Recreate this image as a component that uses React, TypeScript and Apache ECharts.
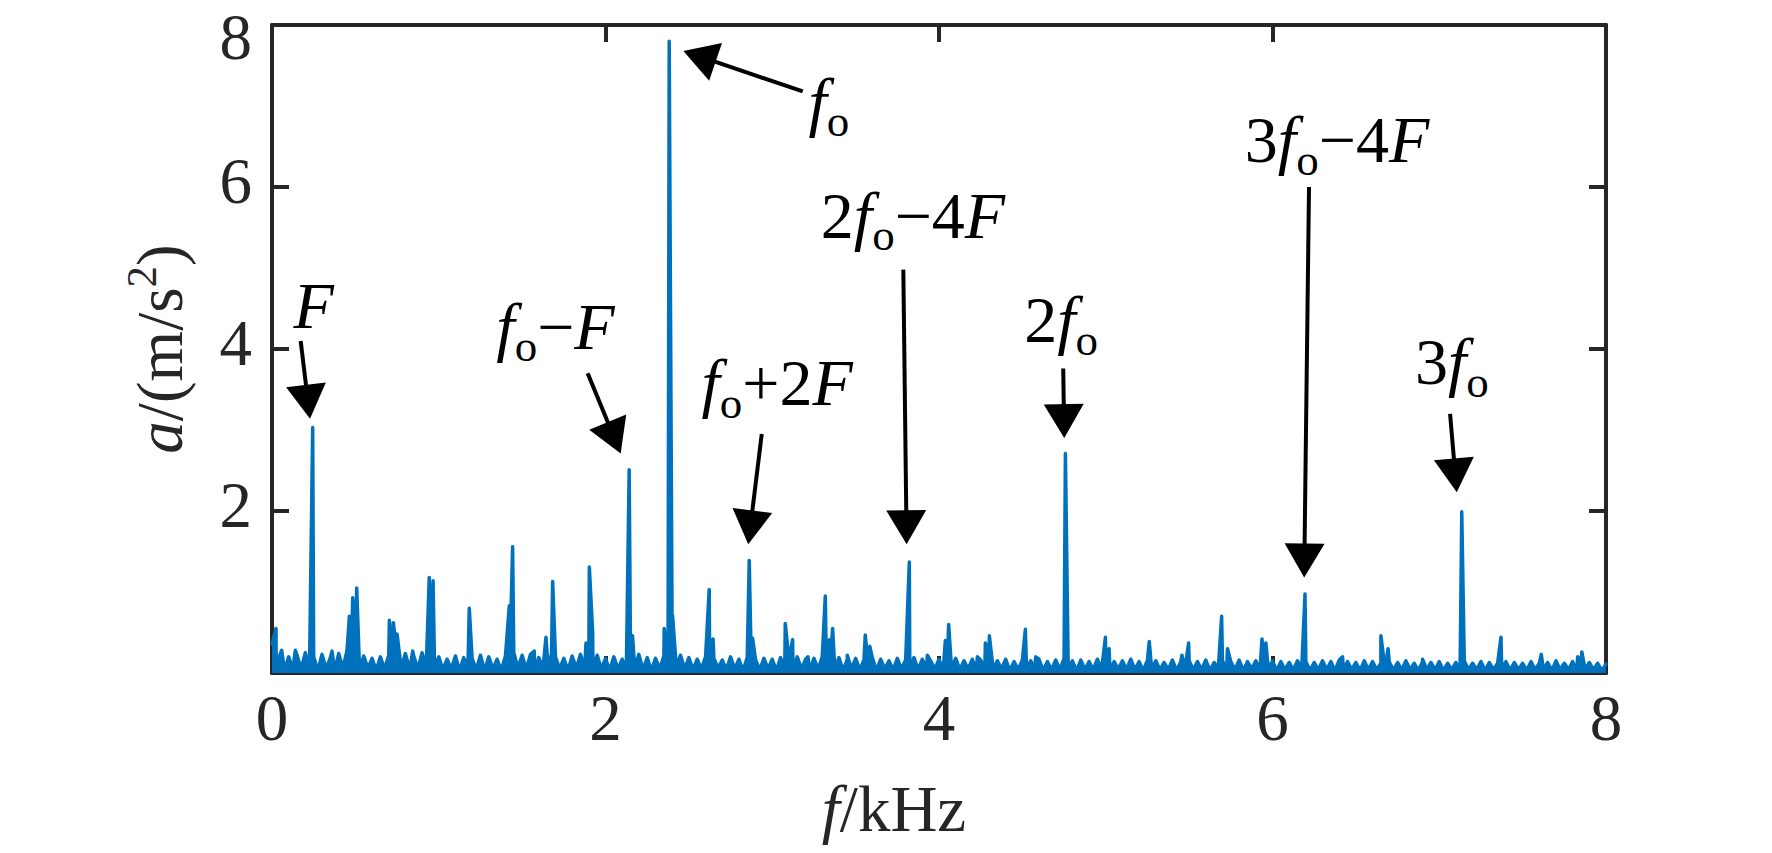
import React, { useEffect, useRef } from "react";
import * as echarts from "echarts";

// ---------- data ----------
const X_MIN = 0;
const X_MAX = 8;
const Y_MIN = 0;
const Y_MAX = 8;
const TICK_STEP = 2;

// noise floor of the spectrum, one value every NOISE_STEP kHz from 0 to 8 kHz
const NOISE_STEP = 0.025;
const noiseFloor = [
  0.36, 0.08, 0.24, 0.03, 0.2, 0.04, 0.22, 0.05, 0.25, 0.06, 0.2, 0.03, 0.23, 0.05, 0.19, 0.03, 0.24, 0.06, 0.28, 0.08,
  0.22, 0.04, 0.21, 0.06, 0.18, 0.03, 0.2, 0.05, 0.22, 0.04, 0.19, 0.06, 0.24, 0.04, 0.21, 0.05, 0.25, 0.07, 0.22, 0.05,
  0.2, 0.04, 0.17, 0.05, 0.21, 0.03, 0.19, 0.06, 0.18, 0.04, 0.22, 0.03, 0.2, 0.05, 0.17, 0.03, 0.21, 0.06, 0.25, 0.06,
  0.22, 0.05, 0.23, 0.03, 0.19, 0.06, 0.24, 0.04, 0.2, 0.05, 0.18, 0.03, 0.21, 0.06, 0.23, 0.05, 0.19, 0.03, 0.22, 0.05,
  0.18, 0.03, 0.2, 0.05, 0.17, 0.04, 0.22, 0.06, 0.23, 0.04, 0.19, 0.03, 0.18, 0.05, 0.21, 0.04, 0.26, 0.07, 0.22, 0.05,
  0.19, 0.04, 0.17, 0.05, 0.2, 0.03, 0.18, 0.06, 0.16, 0.04, 0.2, 0.05, 0.17, 0.03, 0.19, 0.05, 0.16, 0.04, 0.18, 0.05,
  0.17, 0.03, 0.19, 0.05, 0.16, 0.04, 0.2, 0.05, 0.17, 0.03, 0.18, 0.05, 0.2, 0.04, 0.16, 0.05, 0.19, 0.03, 0.17, 0.05,
  0.18, 0.04, 0.16, 0.05, 0.19, 0.03, 0.17, 0.05, 0.15, 0.04, 0.18, 0.05, 0.16, 0.03, 0.19, 0.04, 0.17, 0.04, 0.15, 0.05,
  0.17, 0.03, 0.16, 0.05, 0.18, 0.04, 0.15, 0.05, 0.17, 0.03, 0.16, 0.04, 0.18, 0.04, 0.15, 0.05, 0.17, 0.03, 0.14, 0.04,
  0.16, 0.04, 0.15, 0.05, 0.17, 0.03, 0.14, 0.04, 0.16, 0.04, 0.18, 0.05, 0.15, 0.03, 0.16, 0.04, 0.14, 0.04, 0.17, 0.04,
  0.16, 0.03, 0.14, 0.05, 0.15, 0.04, 0.17, 0.04, 0.14, 0.03, 0.16, 0.05, 0.15, 0.04, 0.13, 0.04, 0.16, 0.03, 0.14, 0.05,
  0.15, 0.04, 0.14, 0.04, 0.16, 0.03, 0.13, 0.05, 0.15, 0.04, 0.14, 0.04, 0.16, 0.03, 0.14, 0.05, 0.15, 0.04, 0.13, 0.04,
  0.15, 0.03, 0.14, 0.04, 0.13, 0.04, 0.15, 0.05, 0.14, 0.03, 0.13, 0.04, 0.15, 0.04, 0.14, 0.03, 0.16, 0.04, 0.14, 0.04,
  0.13, 0.03, 0.15, 0.04, 0.14, 0.04, 0.12, 0.05, 0.14, 0.03, 0.13, 0.04, 0.15, 0.04, 0.12, 0.03, 0.14, 0.04, 0.13, 0.04,
  0.14, 0.03, 0.12, 0.04, 0.13, 0.03, 0.15, 0.04, 0.12, 0.04, 0.14, 0.03, 0.13, 0.04, 0.12, 0.04, 0.14, 0.03, 0.13, 0.04,
  0.12, 0.03, 0.14, 0.04, 0.12, 0.04, 0.13, 0.03, 0.15, 0.04, 0.12, 0.04, 0.14, 0.03, 0.12, 0.04, 0.13, 0.04, 0.12, 0.03,
  0.11,
];

// spectral lines: frequency (kHz) and amplitude (m/s^2)
const peakFreq = [
  0.024, 0.058, 0.14, 0.244, 0.36, 0.464, 0.484, 0.508, 0.704, 0.728, 0.75, 0.844, 0.943, 0.966, 1.183,
  1.423, 1.443, 1.573, 1.643, 1.683, 1.883, 1.903, 1.923, 2.142, 2.162, 2.352, 2.382, 2.402, 2.622, 2.645,
  2.862, 2.882, 3.078, 3.122, 3.214, 3.318, 3.343, 3.362, 3.45, 3.558, 3.585, 3.822, 3.93, 4.038, 4.058,
  4.23, 4.278, 4.302, 4.518, 4.58, 4.758, 4.998, 5.02, 5.261, 5.457, 5.497, 5.695, 5.73, 5.937, 5.96,
  6.195, 6.42, 6.65, 6.693, 6.9, 7.135, 7.37, 7.612, 7.83, 7.855,
];
const peakAmp = [
  0.55, 0.28, 0.28, 3.03, 0.27, 0.7, 0.93, 1.05, 0.65, 0.62, 0.48, 0.27, 1.18, 1.14, 0.8,
  0.83, 1.56, 0.27, 0.44, 1.13, 0.37, 1.31, 0.5, 2.51, 0.46, 0.55, 7.8, 0.71, 1.03, 0.42,
  1.39, 0.43, 0.61, 0.41, 0.2, 0.95, 0.41, 0.55, 0.22, 0.47, 0.33, 1.37, 0.22, 0.4, 0.6,
  0.2, 0.37, 0.46, 0.54, 0.2, 2.71, 0.44, 0.3, 0.39, 0.22, 0.37, 0.7, 0.3, 0.42, 0.37,
  0.975, 0.2, 0.46, 0.3, 0.17, 1.99, 0.44, 0.23, 0.2, 0.26,
];

// annotations: label (rich text), label centre [kHz, baseline value], arrow tail, arrow tip
const annLabels = [
  "{i|F}",
  "{i|f}{s|o}{n|\u2212}{i|F}",
  "{i|f}{s|o}",
  "{i|f}{s|o}{n|+2}{i|F}",
  "{n|2}{i|f}{s|o}{n|\u22124}{i|F}",
  "{n|2}{i|f}{s|o}",
  "{n|3}{i|f}{s|o}{n|\u22124}{i|F}",
  "{n|3}{i|f}{s|o}",
];
const annLabelPos = [
  [0.25, 4.27], [1.7, 4.01], [3.34, 6.79], [3.029, 3.31],
  [3.844, 5.38], [4.732, 4.09], [6.387, 6.31], [7.076, 3.57],
];
const annTail = [
  [0.172, 4.1], [1.893, 3.7], [3.183, 7.18], [2.937, 2.95],
  [3.786, 4.98], [4.745, 3.76], [6.219, 6.0], [7.065, 3.2],
];
const annTip = [
  [0.228, 3.14], [2.091, 2.71], [2.467, 7.68], [2.856, 1.59],
  [3.806, 1.59], [4.751, 2.9], [6.19, 1.18], [7.105, 2.23],
];

// ---------- styling ----------
const SERIF = "'Liberation Serif', 'Times New Roman', serif";
const AXIS_COLOR = "#262626";
const LINE_COLOR = "#0072BD";

export default function App() {
  const ref = useRef<HTMLDivElement>(null);

  useEffect(() => {
    document.body.style.margin = "0";
    if (!ref.current) return;
    const chart = echarts.init(ref.current, undefined, { renderer: "svg" });

    const pts: [number, number][] = noiseFloor.map((v, i) => [
      Math.round(i * NOISE_STEP * 1000) / 1000,
      v,
    ]);
    peakFreq.forEach((f, i) => pts.push([f, peakAmp[i]]));
    pts.sort((a, b) => a[0] - b[0]);

    const axisLine = { show: true, onZero: false, lineStyle: { color: AXIS_COLOR, width: 4 } };
    const axisTick = {
      show: true,
      inside: true,
      length: 17,
      lineStyle: { color: AXIS_COLOR, width: 4 },
    };
    const labelFont = {
      fontFamily: SERIF,
      fontSize: 65,
      color: AXIS_COLOR,
    };
    const NAME_SIZE = 65;

    chart.setOption({
      animation: false,
      backgroundColor: "#ffffff",
      grid: { left: 272, top: 25, width: 1334, height: 648, containLabel: false },
      xAxis: [
        {
          type: "value",
          min: X_MIN,
          max: X_MAX,
          interval: TICK_STEP,
          position: "bottom",
          axisLine,
          axisTick,
          splitLine: { show: false },
          axisLabel: { ...labelFont, margin: 12, lineHeight: 66 },
          name: "{i|f}{n|/kHz}",
          nameLocation: "middle",
          nameGap: 100,
          nameTextStyle: {
            fontFamily: SERIF,
            fontSize: NAME_SIZE,
            color: AXIS_COLOR,
            padding: [0, 90, 0, 0],
            rich: {
              i: { fontFamily: SERIF, fontSize: NAME_SIZE, fontStyle: "italic", color: AXIS_COLOR, lineHeight: 72 },
              n: { fontFamily: SERIF, fontSize: NAME_SIZE, color: AXIS_COLOR, lineHeight: 72 },
            },
          },
        },
        {
          type: "value",
          min: X_MIN,
          max: X_MAX,
          interval: TICK_STEP,
          position: "top",
          axisLine,
          axisTick,
          splitLine: { show: false },
          axisLabel: { show: false },
        },
      ],
      yAxis: [
        {
          type: "value",
          min: Y_MIN,
          max: Y_MAX,
          interval: TICK_STEP,
          position: "left",
          axisLine,
          axisTick,
          splitLine: { show: false },
          axisLabel: {
            ...labelFont,
            margin: 20,
            formatter: (v: number) =>
              v === 0 ? "" : v === Y_MAX ? `{t|${v}}` : `{m|${v}}`,
            rich: {
              t: { fontFamily: SERIF, fontSize: 65, color: AXIS_COLOR, padding: [24, 0, 0, 0] },
              m: { fontFamily: SERIF, fontSize: 65, color: AXIS_COLOR, padding: [0, 0, 12, 0] },
            },
          },
          name: "{i|a}{n|/(m/s}{p|2}{n|)}",
          nameLocation: "middle",
          nameGap: 76,
          nameRotate: 90,
          nameTextStyle: {
            fontFamily: SERIF,
            fontSize: NAME_SIZE,
            color: AXIS_COLOR,
            rich: {
              i: { fontFamily: SERIF, fontSize: NAME_SIZE, fontStyle: "italic", color: AXIS_COLOR, lineHeight: 72 },
              n: { fontFamily: SERIF, fontSize: NAME_SIZE, color: AXIS_COLOR, lineHeight: 72 },
              p: {
                fontFamily: SERIF,
                fontSize: 43,
                color: AXIS_COLOR,
                height: 34,
                lineHeight: 34,
                verticalAlign: "top",
              },
            },
          },
        },
        {
          type: "value",
          min: Y_MIN,
          max: Y_MAX,
          interval: TICK_STEP,
          position: "right",
          axisLine,
          axisTick,
          splitLine: { show: false },
          axisLabel: { show: false },
        },
      ],
      series: [
        {
          type: "line",
          xAxisIndex: 0,
          yAxisIndex: 0,
          data: pts,
          showSymbol: false,
          symbol: "none",
          lineStyle: { color: LINE_COLOR, width: 3.5, join: "round", cap: "round" },
          areaStyle: { color: LINE_COLOR, opacity: 1 },
          z: 3,
        },
      ],
    });

    const toPx = (p: number[]) =>
      chart.convertToPixel({ gridIndex: 0 }, p) as number[];

    const RICH = {
      i: { fontFamily: SERIF, fontSize: 66, fontStyle: "italic", fill: "#000", lineHeight: 70 },
      n: { fontFamily: SERIF, fontSize: 66, fill: "#000", lineHeight: 70 },
      s: {
        fontFamily: SERIF,
        fontSize: 45,
        fill: "#000",
        height: 30,
        lineHeight: 30,
        verticalAlign: "bottom",
      },
    };

    const HEAD_LEN = 34;
    const HEAD_W = 40;
    const graphics: any[] = [];
    annLabels.forEach((lab, k) => {
      const [lx, lb] = toPx(annLabelPos[k]);
      graphics.push({
        type: "text",
        x: lx,
        y: lb - 22,
        z: 10,
        style: {
          text: lab,
          rich: RICH,
          fontFamily: SERIF,
          fontSize: 66,
          fill: "#000",
          align: "center",
          verticalAlign: "middle",
        },
      });
      const [x1, y1] = toPx(annTail[k]);
      const [x2, y2] = toPx(annTip[k]);
      const dx = x2 - x1;
      const dy = y2 - y1;
      const len = Math.hypot(dx, dy);
      const ux = dx / len;
      const uy = dy / len;
      const bx = x2 - ux * HEAD_LEN;
      const by = y2 - uy * HEAD_LEN;
      const nx = -uy;
      const ny = ux;
      graphics.push({
        type: "line",
        z: 10,
        shape: { x1, y1, x2: bx + ux * 3, y2: by + uy * 3 },
        style: { stroke: "#000", lineWidth: 4 },
      });
      graphics.push({
        type: "polygon",
        z: 10,
        shape: {
          points: [
            [x2, y2],
            [bx + (nx * HEAD_W) / 2, by + (ny * HEAD_W) / 2],
            [bx - (nx * HEAD_W) / 2, by - (ny * HEAD_W) / 2],
          ],
        },
        style: { fill: "#000" },
      });
    });
    chart.setOption({ graphic: graphics });

    return () => chart.dispose();
  }, []);

  return <div ref={ref} style={{ width: 1772, height: 853 }} />;
}
